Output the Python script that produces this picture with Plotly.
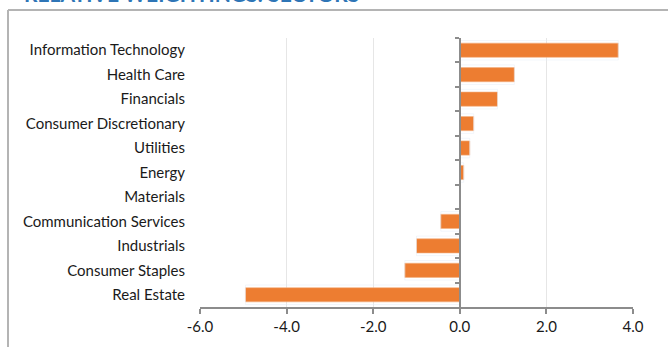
import plotly.graph_objects as go

categories = ["Information Technology", "Health Care", "Financials", "Consumer Discretionary",
              "Utilities", "Energy", "Materials", "Communication Services", "Industrials",
              "Consumer Staples", "Real Estate"]
values = [3.66, 1.26, 0.87, 0.32, 0.23, 0.09, 0.0, -0.44, -1.0, -1.27, -4.95]
x_ticks = [-6, -4, -2, 0, 2, 4]
x_tick_labels = ["-6.0", "-4.0", "-2.0", "0.0", "2.0", "4.0"]
title_text = "RELATIVE WEIGHTINGS: SECTORS"

W, H = 668, 347
L, R, T, B = 200, 35, 38, 40
pw, ph = W - L - R, H - T - B

def px_x(p):
    return (p - L) / pw

def px_y(p):
    return (H - B - p) / ph

FONT = "Lato, 'Open Sans', sans-serif"
GRAY = "#8c8c8c"

fig = go.Figure()
fig.add_trace(go.Bar(
    x=values, y=categories, orientation="h",
    marker=dict(color="#ED7D31", line=dict(color="#F4B183", width=0.6)),
    width=0.58, hoverinfo="x+y", yaxis="y",
))
# invisible trace to build the tick axis through zero
fig.add_trace(go.Bar(
    x=values, y=categories, orientation="h", yaxis="y2",
    marker=dict(color="rgba(0,0,0,0)"), hoverinfo="skip", showlegend=False,
))

pos0 = (0 - x_ticks[0]) / (x_ticks[-1] - x_ticks[0])

fig.update_layout(
    width=W, height=H,
    margin=dict(l=L, r=R, t=T, b=B),
    paper_bgcolor="white", plot_bgcolor="white",
    showlegend=False, barmode="overlay",
    font=dict(family=FONT, size=15, color="#1a1a1a"),
    xaxis=dict(
        range=[x_ticks[0], x_ticks[-1]], tickmode="array",
        tickvals=x_ticks, ticktext=x_tick_labels,
        showgrid=True, gridcolor="#e6e6e6", gridwidth=1,
        zeroline=False, showline=True, linecolor=GRAY, linewidth=1.5,
        ticks="outside", ticklen=5, tickcolor=GRAY, tickwidth=1.5,
        tickfont=dict(size=15, color="#1a1a1a"),
    ),
    yaxis=dict(
        type="category", categoryorder="array", categoryarray=categories,
        range=[len(categories) - 0.5, -0.5],
        showgrid=False, zeroline=False, showline=False, ticks="",
        ticklabelstandoff=14, tickfont=dict(size=15, color="#1a1a1a"),
    ),
    yaxis2=dict(
        type="category", categoryorder="array", categoryarray=categories,
        range=[len(categories) - 0.5, -0.5],
        overlaying="y", anchor="free", position=pos0, side="left",
        showticklabels=False, showgrid=False, zeroline=False,
        showline=True, linecolor=GRAY, linewidth=1.5,
        ticks="outside", tickson="boundaries", ticklen=4, tickcolor=GRAY, tickwidth=1.5,
    ),
    shapes=[
        dict(type="line", xref="paper", yref="paper",
             x0=px_x(8), x1=px_x(700), y0=px_y(10), y1=px_y(10),
             line=dict(color="#b4b4b4", width=2)),
        dict(type="line", xref="paper", yref="paper",
             x0=px_x(8), x1=px_x(8), y0=px_y(10), y1=px_y(360),
             line=dict(color="#b4b4b4", width=2)),
    ],
    annotations=[
        dict(text=f"<b>{title_text}</b>", xref="paper", yref="paper",
             x=px_x(22), y=px_y(8), xanchor="left", yanchor="bottom",
             showarrow=False, font=dict(family=FONT, size=21, color="#2E75B6")),
    ],
)

fig.write_html("out.html")
